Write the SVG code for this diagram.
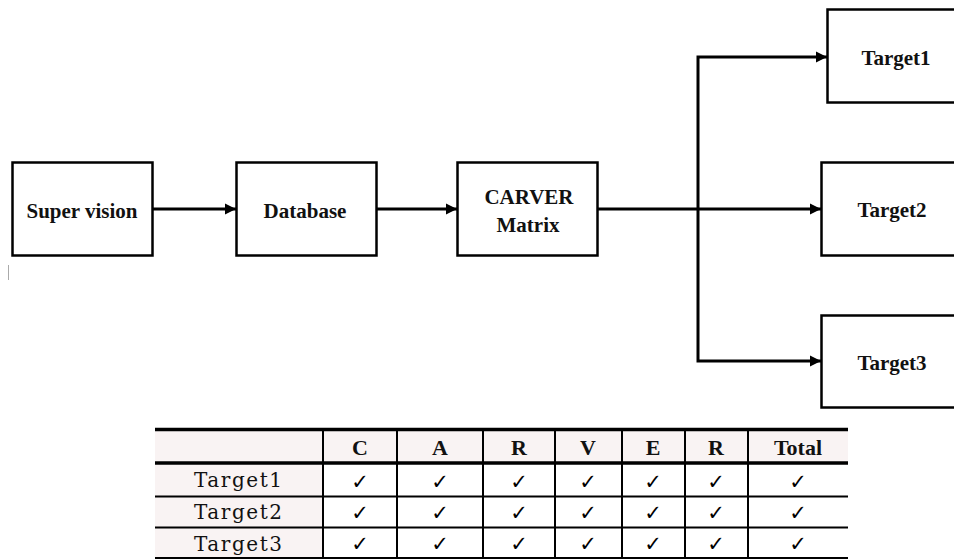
<svg xmlns="http://www.w3.org/2000/svg" width="954" height="560" viewBox="0 0 954 560">
<style>
.box{fill:#fff;stroke:#000;stroke-width:2.5}
.lbl{font-family:"Liberation Serif","Times New Roman",serif;font-weight:bold;font-size:21px;fill:#111;text-anchor:middle}
.con{fill:none;stroke:#000;stroke-width:3;stroke-linejoin:miter}
.hdr{fill:#f9f3f3}
.th{font-family:"Liberation Serif","Times New Roman",serif;font-weight:bold;font-size:22px;fill:#111;text-anchor:middle}
.tr{font-family:"DejaVu Serif","Liberation Serif",serif;font-size:20px;fill:#111;text-anchor:middle}
.ck{font-family:"DejaVu Sans",sans-serif;font-size:21px;fill:#000;text-anchor:middle}
.gl{stroke:#000;stroke-width:2}
.gt{stroke:#000;stroke-width:3.5}
</style>
<defs>
<marker id="ah" markerUnits="userSpaceOnUse" markerWidth="12" markerHeight="12" refX="11" refY="6" orient="auto">
<path d="M0,0.5 L11,6 L0,11.5 Z" fill="#000"/>
</marker>
</defs>
<rect width="954" height="560" fill="#fff"/>
<line x1="8.5" y1="265" x2="8.5" y2="280" stroke="#aaa" stroke-width="1"/>

<g id="supervision"><rect class="box" x="12.5" y="162.5" width="140" height="93"/><text class="lbl" x="82" y="218" font-size="22">Super vision</text></g>
<g id="database"><rect class="box" x="236.5" y="162.5" width="140" height="93"/><text class="lbl" x="305" y="218" font-size="22">Database</text></g>
<g id="carver"><rect class="box" x="457.5" y="162.5" width="140" height="93"/><text class="lbl" x="529" y="204">CARVER</text><text class="lbl" x="528" y="232">Matrix</text></g>
<g id="target1"><rect class="box" x="827.5" y="9.5" width="140" height="93"/><text class="lbl" x="896" y="65">Target1</text></g>
<g id="target2"><rect class="box" x="821.5" y="162.5" width="140" height="93"/><text class="lbl" x="892" y="217">Target2</text></g>
<g id="target3"><rect class="box" x="821.5" y="315.5" width="140" height="92"/><text class="lbl" x="892" y="370">Target3</text></g>

<g id="connectors">
<path class="con" d="M153,209 H236" marker-end="url(#ah)"/>
<path class="con" d="M377,209 H457" marker-end="url(#ah)"/>
<path class="con" d="M598,209 H821" marker-end="url(#ah)"/>
<path class="con" d="M698,209 V57 H827" marker-end="url(#ah)"/>
<path class="con" d="M698,209 V361 H821" marker-end="url(#ah)"/>
</g>

<g id="table">
<rect class="hdr" x="155" y="429" width="693" height="34"/>
<rect class="hdr" x="155" y="463" width="168" height="95"/>
<g class="gt">
<line x1="155" y1="429.5" x2="848" y2="429.5"/>
<line x1="155" y1="463" x2="848" y2="463"/>
</g>
<g class="gl">
<line x1="155" y1="496.5" x2="848" y2="496.5"/>
<line x1="155" y1="527.5" x2="848" y2="527.5"/>
<line x1="155" y1="558" x2="848" y2="558"/>
<line x1="323" y1="429" x2="323" y2="559"/>
<line x1="397" y1="429" x2="397" y2="559"/>
<line x1="483" y1="429" x2="483" y2="559"/>
<line x1="555" y1="429" x2="555" y2="559"/>
<line x1="622" y1="429" x2="622" y2="559"/>
<line x1="685" y1="429" x2="685" y2="559"/>
<line x1="748" y1="429" x2="748" y2="559"/>
</g>
<text class="th" x="360" y="455">C</text>
<text class="th" x="440" y="455">A</text>
<text class="th" x="519" y="455">R</text>
<text class="th" x="588" y="455">V</text>
<text class="th" x="653" y="455">E</text>
<text class="th" x="716" y="455">R</text>
<text class="th" x="798" y="455">Total</text>
<text class="tr" x="238" y="487" textLength="88" lengthAdjust="spacing">Target1</text>
<text class="tr" x="238" y="519" textLength="88" lengthAdjust="spacing">Target2</text>
<text class="tr" x="238" y="551" textLength="88" lengthAdjust="spacing">Target3</text>
<g class="ck">
<text x="360" y="489">✓</text><text x="440" y="489">✓</text><text x="519" y="489">✓</text><text x="588" y="489">✓</text><text x="653" y="489">✓</text><text x="716" y="489">✓</text><text x="798" y="489">✓</text>
<text x="360" y="520">✓</text><text x="440" y="520">✓</text><text x="519" y="520">✓</text><text x="588" y="520">✓</text><text x="653" y="520">✓</text><text x="716" y="520">✓</text><text x="798" y="520">✓</text>
<text x="360" y="551">✓</text><text x="440" y="551">✓</text><text x="519" y="551">✓</text><text x="588" y="551">✓</text><text x="653" y="551">✓</text><text x="716" y="551">✓</text><text x="798" y="551">✓</text>
</g>
</g>
</svg>
